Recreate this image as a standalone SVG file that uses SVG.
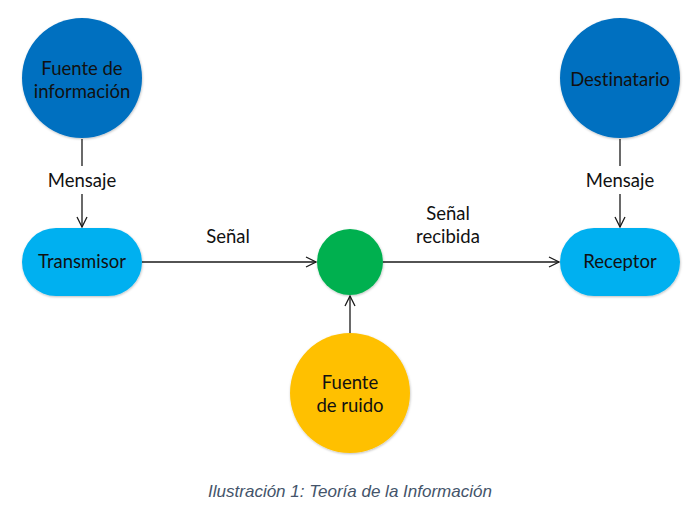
<svg xmlns="http://www.w3.org/2000/svg" width="697" height="517" viewBox="0 0 697 517">
<style>
.t{font-family:Lato,"Open Sans","Liberation Sans",sans-serif;font-size:18.5px;fill:#111;text-anchor:middle;font-variant-ligatures:none}
.c{stroke:#1a1a1a;stroke-width:1.3;fill:none}
.cap{font-family:"Liberation Sans",Arial,sans-serif;font-style:italic;font-size:17px;fill:#44546A;text-anchor:middle}
</style>
<defs>
<marker id="a" viewBox="0 0 12 12" refX="11" refY="6" markerWidth="12" markerHeight="12" markerUnits="userSpaceOnUse" orient="auto">
<path d="M1,1 L11,6 L1,11" fill="none" stroke="#1a1a1a" stroke-width="1.3"/>
</marker>
<filter id="s" x="-20%" y="-20%" width="140%" height="140%">
<feDropShadow dx="0.5" dy="1" stdDeviation="1.2" flood-color="#000" flood-opacity="0.25"/>
</filter>
</defs>
<rect width="697" height="517" fill="#fff"/>
<g id="connectors">
<line class="c" x1="82" y1="139" x2="82" y2="166"/>
<line class="c" x1="82" y1="194" x2="82" y2="227" marker-end="url(#a)"/>
<line class="c" x1="620" y1="139" x2="620" y2="166"/>
<line class="c" x1="620" y1="194" x2="620" y2="227" marker-end="url(#a)"/>
<line class="c" x1="142" y1="262" x2="316" y2="262" marker-end="url(#a)"/>
<line class="c" x1="383" y1="262" x2="559" y2="262" marker-end="url(#a)"/>
<line class="c" x1="350" y1="333" x2="350" y2="296" marker-end="url(#a)"/>
<text class="t" x="82" y="187">Mensaje</text>
<text class="t" x="620" y="187">Mensaje</text>
<text class="t" x="228" y="243">Señal</text>
<text class="t" x="448" y="220">Señal</text>
<text class="t" x="448" y="243">recibida</text>
</g>
<g id="fuente-informacion">
<circle cx="82" cy="78" r="60" fill="#0070C0" filter="url(#s)"/>
<text class="t" x="82" y="75">Fuente de</text>
<text class="t" x="82" y="98">información</text>
</g>
<g id="transmisor">
<rect x="22" y="228" width="120" height="68" rx="34" fill="#00B0F0" filter="url(#s)"/>
<text class="t" x="82" y="268">Transmisor</text>
</g>
<g id="canal">
<circle cx="350" cy="262" r="33" fill="#00B050" filter="url(#s)"/>
</g>
<g id="fuente-ruido">
<circle cx="350" cy="393" r="60" fill="#FFC000" filter="url(#s)"/>
<text class="t" x="350" y="389">Fuente</text>
<text class="t" x="350" y="412">de ruido</text>
</g>
<g id="destinatario">
<circle cx="620" cy="78" r="60" fill="#0070C0" filter="url(#s)"/>
<text class="t" x="620" y="86">Destinatario</text>
</g>
<g id="receptor">
<rect x="560" y="228" width="120" height="68" rx="34" fill="#00B0F0" filter="url(#s)"/>
<text class="t" x="620" y="268">Receptor</text>
</g>
<text class="cap" x="350" y="497">Ilustración 1: Teoría de la Información</text>
</svg>
